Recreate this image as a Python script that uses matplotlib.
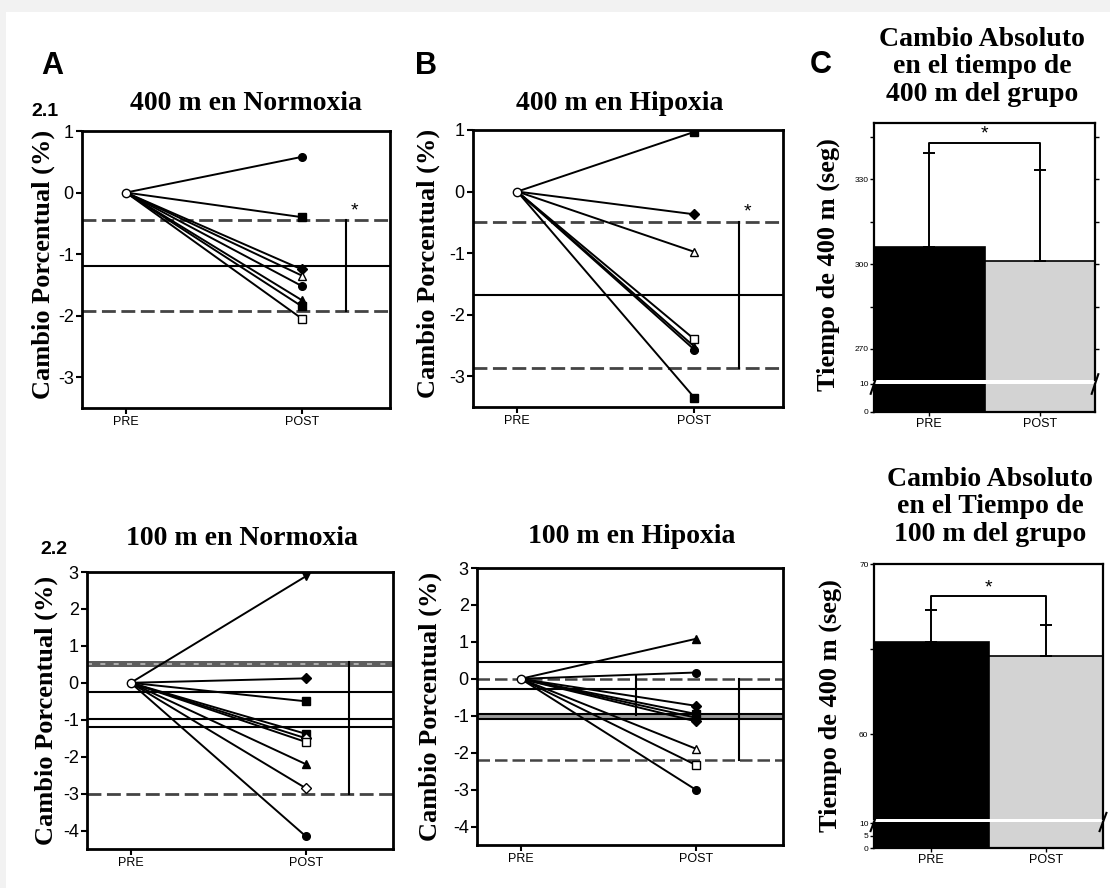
import matplotlib
matplotlib.use("Agg")
import matplotlib.pyplot as plt
from matplotlib.patches import Rectangle
import numpy as np

# ---------------- data ----------------
conditions = ["PRE", "POST"]

# 2.1 – 400 m (percent change PRE->POST per swimmer)
n400_post = [0.58, -0.40, -1.25, -1.35, -1.52, -1.75, -1.85, -2.05]
n400_mean = -1.20
n400_band = [-0.45, -1.93]

h400_post = [0.97, -0.37, -0.98, -2.40, -2.52, -2.57, -3.35]
h400_mean = -1.68
h400_band = [-0.49, -2.87]

# 2.2 – 100 m
n100_post = [2.88, 0.12, -0.50, -1.38, -1.50, -1.60, -2.20, -2.85, -4.15]
n100_lines = [-0.25, -0.98, -1.20]
n100_band = [0.55, -3.00]

h100_post = [1.08, 0.17, -0.73, -0.95, -1.05, -1.15, -1.89, -2.33, -3.00]
h100_lines = [0.45, -0.27]
h100_band = [0.00, -2.20]
h100_inner = [0.08, -0.97]
h100_double = [-0.96, -1.10]

# C – absolute times (s)
t400_mean = [306.0, 301.1]
t400_sd = [33.5, 32.4]
t100_mean = [65.4, 64.6]
t100_sd = [1.9, 1.8]

# ---------------- styles ----------------
W, H = 1110, 888
SERIF = ["Liberation Serif", "DejaVu Serif"]
SANS = ["Liberation Sans", "DejaVu Sans"]
plt.rcParams["font.family"] = SANS

fig = plt.figure(figsize=(W / 100, H / 100), dpi=100)
fig.set_facecolor("#f2f2f2")
fig.patches.append(Rectangle((6 / W, 0), 1, 1 - 12 / H, transform=fig.transFigure,
                             facecolor="white", edgecolor="none", zorder=-5))

TITLE_FS = 20
YLAB_FS = 19


def ax_px(l, t, r, b):
    return fig.add_axes([l / W, 1 - b / H, (r - l) / W, (b - t) / H])


def fig_text(x, y, s, **kw):
    fig.text(x / W, 1 - y / H, s, **kw)


n400_mk = [("o", True), ("s", True), ("D", True), ("^", False), ("o", True),
           ("^", True), ("s", True), ("s", False)]
h400_mk = [("s", True), ("D", True), ("^", False), ("s", False), ("^", True),
           ("o", True), ("s", True)]
n100_mk = [("v", True), ("D", True), ("s", True), ("s", True), ("D", False),
           ("s", False), ("^", True), ("D", False), ("o", True)]
h100_mk = [("^", True), ("o", True), ("D", True), ("s", True), ("o", True),
           ("D", True), ("^", False), ("s", False), ("o", True)]


def paired(ax, post, marks, ylim, yticks):
    for v, (m, filled) in zip(post, marks):
        ax.plot([0, 1], [0, v], color="black", lw=1.4, zorder=3)
        ax.plot([1], [v], marker=m, ms=5.5, mec="black",
                mfc="black" if filled else "white", mew=1.0, zorder=4, ls="none")
    ax.plot([0], [0], marker="o", ms=6, mfc="white", mec="black", mew=1.0, zorder=5)
    ax.set_xlim(-0.25, 1.5)
    ax.set_ylim(*ylim)
    ax.set_xticks([0, 1])
    ax.set_xticklabels(conditions, fontsize=9, family=SANS)
    ax.set_yticks(yticks)
    ax.set_yticklabels([f"{t:g}" for t in yticks], fontsize=13, family=SANS)
    for s in ax.spines.values():
        s.set_linewidth(2.0)
    ax.tick_params(direction="out", length=4, width=1.5, pad=2)
    ax.set_ylabel("Cambio Porcentual (%)", family=SERIF, fontweight="bold",
                  fontsize=YLAB_FS, labelpad=2)


def band(ax, lo_hi, mean=None, x=1.25, star=None):
    hi, lo = lo_hi
    ax.axhline(hi, color="#444444", lw=2, ls=(0, (5, 2)), zorder=2)
    ax.axhline(lo, color="#444444", lw=2, ls=(0, (5, 2)), zorder=2)
    if mean is not None:
        ax.axhline(mean, color="black", lw=1.5, zorder=2)
    ax.plot([x, x], [hi, lo], color="black", lw=1.5, zorder=2)
    if star is not None:
        ax.text(star[0], star[1], "*", fontsize=14, ha="center", va="center",
                family=SANS)


# ---- A: 400 m Normoxia ----
axA = ax_px(82, 131, 390, 408)
paired(axA, n400_post, n400_mk, (-3.5, 1), [1, 0, -1, -2, -3])
band(axA, n400_band, n400_mean, star=(1.30, -0.30))
axA.yaxis.set_label_coords(-0.088, 0.52)
fig_text(246, 110, "400 m en Normoxia", family=SERIF, fontweight="bold",
         fontsize=TITLE_FS, ha="center", va="baseline")

# ---- B: 400 m Hipoxia ----
axB = ax_px(473, 130, 783, 407)
paired(axB, h400_post, h400_mk, (-3.5, 1), [1, 0, -1, -2, -3])
band(axB, h400_band, h400_mean, star=(1.30, -0.33))
axB.yaxis.set_label_coords(-0.106, 0.52)
fig_text(620, 110, "400 m en Hipoxia", family=SERIF, fontweight="bold",
         fontsize=TITLE_FS, ha="center", va="baseline")

# ---- 2.2: 100 m Normoxia ----
axN = ax_px(87, 572, 393, 849)
paired(axN, n100_post, n100_mk, (-4.5, 3), [3, 2, 1, 0, -1, -2, -3, -4])
axN.axhspan(0.42, 0.60, color="#5e5e5e", lw=0, zorder=1)
axN.axhline(0.51, color="#bdbdbd", lw=1.2, ls=(0, (3, 5)), zorder=2)
axN.axhline(n100_band[1], color="#444444", lw=2, ls=(0, (5, 2)), zorder=2)
for y in n100_lines:
    axN.axhline(y, color="black", lw=1.5, zorder=2)
axN.plot([1.25, 1.25], n100_band, color="black", lw=1.5, zorder=2)
axN.yaxis.set_label_coords(-0.095, 0.5)
fig_text(242, 545, "100 m en Normoxia", family=SERIF, fontweight="bold",
         fontsize=TITLE_FS, ha="center", va="baseline")

# ---- 100 m Hipoxia ----
axH = ax_px(477, 568, 783, 845)
paired(axH, h100_post, h100_mk, (-4.5, 3), [3, 2, 1, 0, -1, -2, -3, -4])
for y in h100_lines:
    axH.axhline(y, color="black", lw=1.5, zorder=2)
axH.axhspan(h100_double[1], h100_double[0], color="#9a9a9a", lw=0, zorder=1)
for y in h100_double:
    axH.axhline(y, color="black", lw=1.5, zorder=2)
axH.axhline(h100_band[0], color="#444444", lw=1.8, ls=(0, (5, 2)), zorder=2)
axH.axhline(h100_band[1], color="#444444", lw=1.8, ls=(0, (5, 2)), zorder=2)
axH.plot([1.25, 1.25], h100_band, color="black", lw=1.5, zorder=2)
axH.plot([0.66, 0.66], h100_inner, color="black", lw=1.5, zorder=2)
axH.yaxis.set_label_coords(-0.114, 0.5)
fig_text(632, 543, "100 m en Hipoxia", family=SERIF, fontweight="bold",
         fontsize=TITLE_FS, ha="center", va="baseline")


# ---- C: broken-axis bar charts ----
def broken_bars(top_box, low_box, means, sds, up_lim, low_lim, up_ticks, up_minor,
                low_ticks, bracket_y, star_y, right_minor=True):
    axu = ax_px(*top_box)
    axl = ax_px(*low_box)
    colors = ["black", "#d3d3d3"]
    x = np.arange(len(means))
    for ax in (axu, axl):
        ax.bar(x, means, width=1.0, color=colors, edgecolor="black", lw=1.2, zorder=2)
        ax.set_xlim(-0.5, 1.5)
        for s in ax.spines.values():
            s.set_linewidth(1.6)
    axu.errorbar(x, means, yerr=[[0, 0], sds], fmt="none", ecolor="black",
                 elinewidth=1.4, capsize=4, capthick=1.4, zorder=3)
    tops = [m + s for m, s in zip(means, sds)]
    axu.plot([0, 0, 1, 1], [tops[0], bracket_y, bracket_y, tops[1]],
             color="black", lw=1.4, zorder=3)
    axu.text(0.5, star_y, "*", ha="center", va="center", fontsize=14, family=SANS)
    axu.set_ylim(*up_lim)
    axl.set_ylim(*low_lim)
    axu.spines["bottom"].set_visible(False)
    axl.spines["top"].set_visible(False)
    axu.set_xticks([])
    axl.set_xticks(x)
    axl.set_xticklabels(conditions, fontsize=9, family=SANS)
    axu.set_yticks(up_ticks)
    axu.set_yticklabels([f"{t:g}" for t in up_ticks], fontsize=6, family=SANS)
    axu.set_yticks(up_minor, minor=True)
    axl.set_yticks(low_ticks)
    axl.set_yticklabels([f"{t:g}" for t in low_ticks], fontsize=6, family=SANS)
    axu.tick_params(which="both", direction="out", length=3, width=1, pad=1,
                    right=right_minor)
    axl.tick_params(direction="out", length=3, width=1, pad=1)
    for xx in (0.0, 1.0):
        axl.plot([xx - 0.015, xx + 0.015], [0.65, 1.35],
                 transform=axl.transAxes, color="black", lw=1.5, clip_on=False)
    return axu, axl


broken_bars((874, 123, 1095, 380), (874, 384, 1095, 412),
            t400_mean, t400_sd, (259, 350), (0, 10),
            [270, 300, 330], [285, 315, 345], [0, 10], 343, 346)
fig_text(828, 265, "Tiempo de 400 m (seg)", family=SERIF, fontweight="bold",
         fontsize=YLAB_FS, rotation=90, ha="center", va="center")
fig_text(982, 27, "Cambio Absoluto\nen el tiempo de\n400 m del grupo", family=SERIF,
         fontweight="bold", fontsize=TITLE_FS, ha="center", va="top", linespacing=1.12)

broken_bars((874, 564, 1103, 819), (874, 822, 1103, 848),
            t100_mean, t100_sd, (55, 70), (0, 10.5),
            [60, 70], [65], [0, 5, 10], 68.1, 68.6, right_minor=False)
fig_text(830, 706, "Tiempo de 400 m (seg)", family=SERIF, fontweight="bold",
         fontsize=YLAB_FS, rotation=90, ha="center", va="center")
fig_text(990, 467, "Cambio Absoluto\nen el Tiempo de\n100 m del grupo", family=SERIF,
         fontweight="bold", fontsize=TITLE_FS, ha="center", va="top", linespacing=1.12)

# panel labels
fig_text(52, 66, "A", fontsize=22, fontweight="bold", family=SANS, ha="center", va="center")
fig_text(426, 66, "B", fontsize=22, fontweight="bold", family=SANS, ha="center", va="center")
fig_text(821, 65, "C", fontsize=22, fontweight="bold", family=SANS, ha="center", va="center")
fig_text(45, 112, "2.1", fontsize=14, fontweight="bold", family=SANS, ha="center", va="center")
fig_text(54, 550, "2.2", fontsize=14, fontweight="bold", family=SANS, ha="center", va="center")

fig.savefig("out.png", dpi=100)
